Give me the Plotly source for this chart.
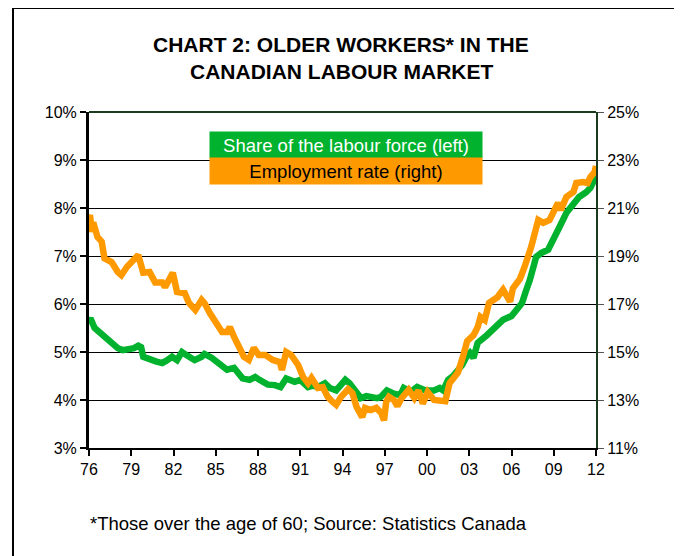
import plotly.graph_objects as go

# ---- data ----
share_years = [1976.0, 1976.1, 1976.4, 1976.6, 1976.8, 1977.1, 1977.35, 1977.7, 1978.05, 1978.4,
               1978.8, 1979.2, 1979.5, 1979.7, 1979.85, 1980.2, 1980.5, 1980.8, 1981.2, 1981.5,
               1981.9, 1982.25, 1982.6, 1983.0, 1983.5, 1984.0, 1984.2, 1984.7, 1985.0, 1985.3,
               1985.8, 1986.3, 1986.6, 1986.9, 1987.4, 1987.8, 1988.1, 1988.4, 1988.7, 1989.2,
               1989.6, 1990.0, 1990.3, 1990.6, 1991.0, 1991.55, 1991.9, 1992.25, 1992.75, 1993.1,
               1993.55, 1993.9, 1994.2, 1994.5, 1994.7, 1995.0, 1995.3, 1995.7, 1996.0, 1996.45,
               1996.7, 1997.15, 1997.65, 1998.1, 1998.35, 1998.85, 1999.3, 1999.9, 2000.5, 2000.9,
               2001.15, 2001.5, 2001.85, 2002.1, 2002.5, 2002.8, 2003.05, 2003.3, 2003.6, 2004.25,
               2004.95, 2005.4, 2006.0, 2006.4, 2006.75, 2007.0, 2007.3, 2007.75, 2008.1, 2008.6,
               2009.0, 2009.4, 2009.9, 2010.4, 2010.8, 2011.3, 2011.6, 2011.9, 2012.0]
share_labour_force = [5.65, 5.7, 5.5, 5.45, 5.4, 5.35, 5.25, 5.2, 5.08, 5.04,
                      5.05, 5.08, 5.13, 5.1, 4.9, 4.88, 4.83, 4.8, 4.77, 4.82,
                      4.9, 4.83, 5.0, 4.92, 4.83, 4.9, 4.96, 4.88, 4.8, 4.73,
                      4.63, 4.67, 4.55, 4.45, 4.42, 4.48, 4.42, 4.36, 4.32, 4.31,
                      4.27, 4.45, 4.4, 4.38, 4.42, 4.27, 4.3, 4.27, 4.35, 4.25,
                      4.2, 4.3, 4.42, 4.35, 4.27, 4.15, 4.04, 4.08, 4.06, 4.04,
                      4.06, 4.2, 4.13, 4.1, 4.25, 4.17, 4.27, 4.2, 4.2, 4.25,
                      4.2, 4.42, 4.5, 4.58, 4.73, 4.9, 4.98, 4.88, 5.19, 5.35,
                      5.52, 5.67, 5.75, 5.9, 6.02, 6.25, 6.5, 6.98, 7.06, 7.13,
                      7.4, 7.6, 7.9, 8.06, 8.23, 8.33, 8.42, 8.6, 8.75]

rate_years = [1976.0, 1976.07, 1976.2, 1976.3, 1976.6, 1976.9, 1977.1, 1977.6, 1978.05, 1978.3,
              1978.7, 1979.05, 1979.5, 1979.85, 1980.3, 1980.7, 1981.2, 1981.4, 1981.8, 1981.95,
              1982.25, 1982.45, 1982.8, 1983.1, 1983.55, 1984.0, 1984.2, 1984.6, 1985.0, 1985.45,
              1985.8, 1986.0, 1986.3, 1986.65, 1987.0, 1987.35, 1987.7, 1988.05, 1988.5, 1989.05,
              1989.55, 1989.7, 1990.0, 1990.35, 1990.85, 1991.2, 1991.55, 1991.8, 1992.25, 1992.6,
              1992.95, 1993.3, 1993.55, 1993.9, 1994.4, 1994.7, 1995.0, 1995.4, 1995.6, 1996.0,
              1996.4, 1996.75, 1996.95, 1997.1, 1997.3, 1997.65, 1997.9, 1998.2, 1998.7, 1999.1,
              1999.4, 1999.7, 2000.05, 2000.5, 2001.0, 2001.3, 2001.6, 2002.2, 2002.55, 2002.85,
              2003.3, 2003.6, 2003.8, 2004.1, 2004.4, 2005.0, 2005.4, 2005.9, 2006.1, 2006.6,
              2006.9, 2007.4, 2007.9, 2008.25, 2008.7, 2009.0, 2009.3, 2009.5, 2009.9, 2010.4,
              2010.6, 2011.1, 2011.4, 2011.6, 2011.9, 2012.0]
employment_rate = [20.6, 20.7, 20.0, 20.4, 19.8, 19.6, 18.9, 18.75, 18.33, 18.2,
                   18.55, 18.75, 19.04, 18.3, 18.33, 17.9, 17.9, 17.7, 18.2, 18.3,
                   17.5, 17.5, 17.45, 17.04, 16.75, 17.17, 17.04, 16.6, 16.25, 15.83,
                   15.83, 16.04, 15.63, 15.17, 14.8, 14.67, 15.17, 14.88, 14.88, 14.67,
                   14.58, 14.25, 15.0, 14.88, 14.46, 13.96, 13.7, 13.92, 13.5, 13.54,
                   13.13, 12.92, 12.8, 13.13, 13.45, 13.29, 12.71, 12.29, 12.67, 12.58,
                   12.67, 12.46, 12.15, 12.92, 13.13, 13.0, 12.75, 13.08, 13.42, 13.08,
                   13.4, 12.85, 13.33, 13.0, 12.95, 12.95, 13.7, 14.15, 14.8, 15.45,
                   15.7, 16.04, 16.46, 16.33, 17.04, 17.28, 17.6, 17.1, 17.65, 18.05,
                   18.5, 19.38, 20.5, 20.38, 20.5, 20.79, 21.21, 20.92, 21.46, 21.67,
                   22.04, 22.08, 22.04, 22.29, 22.5, 22.75]

x_tick_years = [1976, 1979, 1982, 1985, 1988, 1991, 1994, 1997, 2000, 2003, 2006, 2009, 2012]
x_tick_labels = ["76", "79", "82", "85", "88", "91", "94", "97", "00", "03", "06", "09", "12"]
left_ticks = [3, 4, 5, 6, 7, 8, 9, 10]
right_ticks = [11, 13, 15, 17, 19, 21, 23, 25]

GREEN = "#00B22D"
ORANGE = "#FF9900"
FONT = "Arial, Liberation Sans, sans-serif"

# the page body has an 8px margin; work in screen pixels and shift
OFF = 8
W, H = 682 - OFF, 556 - OFF
L, R, T, B = 89 - OFF, 596 - OFF, 112 - OFF, 448 - OFF


def px_x(px):
    return (px - OFF - L) / (R - L)


def px_y(py):
    return (B - (py - OFF)) / (B - T)


fig = go.Figure()
fig.add_trace(go.Scatter(x=share_years, y=share_labour_force, mode="lines",
                         line=dict(color=GREEN, width=6.5), name="Share of the labour force (left)",
                         yaxis="y"))
fig.add_trace(go.Scatter(x=rate_years, y=employment_rate, mode="lines",
                         line=dict(color=ORANGE, width=6.5), name="Employment rate (right)",
                         yaxis="y2"))

fig.update_layout(
    width=W, height=H,
    margin=dict(l=L, r=W - R, t=T, b=H - B),
    paper_bgcolor="white", plot_bgcolor="white",
    showlegend=False,
    font=dict(family=FONT, size=16, color="black"),
    xaxis=dict(range=[1976, 2012], tickvals=x_tick_years, ticktext=x_tick_labels,
               showgrid=False, zeroline=False, showline=True, linecolor="black", linewidth=2,
               ticks="outside", ticklen=6, tickwidth=2, tickcolor="black",
               tickfont=dict(size=16)),
    yaxis=dict(range=[3, 10], tickvals=left_ticks, ticktext=[f"{v}%" for v in left_ticks],
               showgrid=True, gridcolor="black", gridwidth=1, zeroline=False,
               showline=True, linecolor="black", linewidth=3,
               ticks="outside", ticklen=6, tickwidth=2, tickcolor="black",
               tickfont=dict(size=16)),
    yaxis2=dict(range=[11, 25], tickvals=right_ticks, ticktext=[f"{v}%" for v in right_ticks],
                overlaying="y", side="right", showgrid=False, zeroline=False,
                showline=True, linecolor="#1C3A1C", linewidth=2,
                ticks="outside", ticklen=6, tickwidth=1, tickcolor="#555555",
                tickfont=dict(size=16)),
)

shapes = [
    # outer frame
    dict(type="rect", xref="paper", yref="paper", x0=px_x(13), x1=px_x(676),
         y0=px_y(575), y1=px_y(8), line=dict(color="black", width=2), layer="below"),
    # top border of plot area
    dict(type="line", xref="paper", yref="paper", x0=0, x1=1, y0=1, y1=1,
         line=dict(color="#1C3A1C", width=2)),
]
fig.update_layout(shapes=shapes)

annotations = [
    dict(text="<b>CHART 2: OLDER WORKERS* IN THE</b>", xref="paper", yref="paper",
         x=px_x(341), y=px_y(44), xanchor="center", yanchor="middle", showarrow=False,
         font=dict(size=21, family=FONT)),
    dict(text="<b>CANADIAN LABOUR MARKET</b>", xref="paper", yref="paper",
         x=px_x(341), y=px_y(71), xanchor="center", yanchor="middle", showarrow=False,
         font=dict(size=21, family=FONT)),
    dict(text="Share of the labour force (left)", xref="paper", yref="paper",
         x=px_x(209), y=px_y(131), xanchor="left", yanchor="top", showarrow=False,
         width=272, height=26, bgcolor=GREEN, borderpad=0, align="center",
         font=dict(size=18.5, color="white", family=FONT)),
    dict(text="Employment rate (right)", xref="paper", yref="paper",
         x=px_x(209), y=px_y(157), xanchor="left", yanchor="top", showarrow=False,
         width=272, height=26, bgcolor=ORANGE, borderpad=0, align="center",
         font=dict(size=18.5, color="black", family=FONT)),
    dict(text="*Those over the age of 60; Source: Statistics Canada", xref="paper", yref="paper",
         x=px_x(88), y=px_y(523), xanchor="left", yanchor="middle", showarrow=False,
         font=dict(size=18.5, family=FONT)),
]
fig.update_layout(annotations=annotations)

fig.write_html("out.html")
